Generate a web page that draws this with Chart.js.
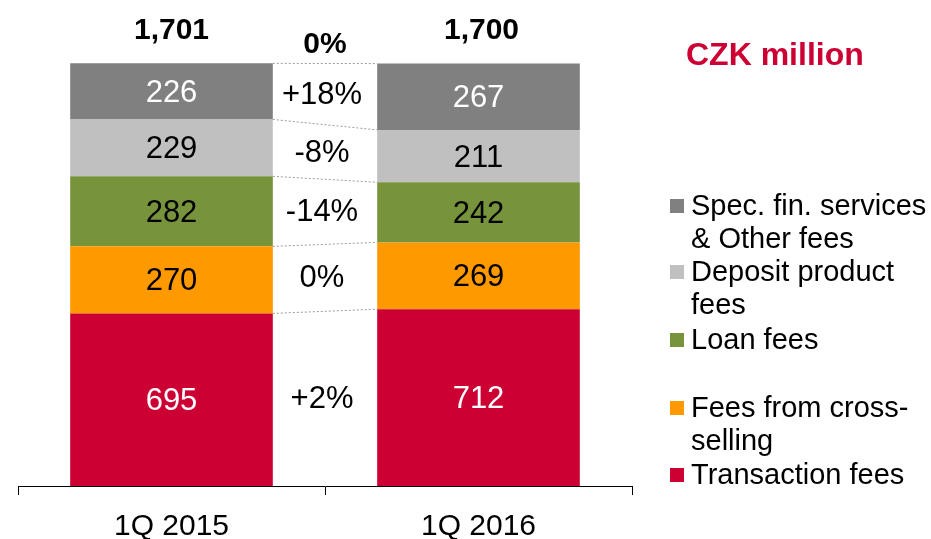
<!DOCTYPE html>
<html>
<head>
<meta charset="utf-8">
<script src="https://cdn.jsdelivr.net/npm/chart.js@4"></script>
<style>
  html, body { margin: 0; padding: 0; background: #fff; }
  #wrap { width: 931px; height: 539px; }
</style>
</head>
<body>
<div id="wrap"><canvas id="feeChart" width="931" height="539"></canvas></div>
<script>
// categories
const periods = ['1Q 2015', '1Q 2016'];

// series, bottom to top of stack
const transactionFees = [695, 712];
const crossSellingFees = [270, 269];
const loanFees = [282, 242];
const depositFees = [229, 211];
const specFinFees = [226, 267];

// totals and changes
const totals = ['1,701', '1,700'];
const totalChange = '0%';
const seriesChange = ['+2%', '0%', '-14%', '-8%', '+18%'];

const seriesNames = [
  ['Transaction fees'],
  ['Fees from cross-', 'selling'],
  ['Loan fees'],
  ['Deposit product', 'fees'],
  ['Spec. fin. services', '& Other fees']
];
const unitTitle = 'CZK million';

const colors = ['#CC0033', '#FF9900', '#77933C', '#C0C0C0', '#808080'];
const labelColors = ['#fff', '#000', '#000', '#000', '#fff'];
const FONT = '"Liberation Sans", Arial, sans-serif';

const seriesData = [transactionFees, crossSellingFees, loanFees, depositFees, specFinFees];

const datasets = seriesData.map((d, i) => ({
  label: seriesNames[i].join(' '),
  data: d,
  backgroundColor: colors[i],
  borderWidth: 0,
  barPercentage: 0.66,
  categoryPercentage: 1
}));

// connectors, value labels, totals, change labels
const overlayPlugin = {
  id: 'overlay',
  afterDatasetsDraw(chart) {
    const ctx = chart.ctx;
    const metas = chart.data.datasets.map((_, i) => chart.getDatasetMeta(i));

    // dashed connectors between bars
    ctx.save();
    ctx.strokeStyle = '#9a9a9a';
    ctx.lineWidth = 1;
    ctx.setLineDash([2, 2]);
    metas.forEach(m => {
      const a = m.data[0], b = m.data[1];
      ctx.beginPath();
      ctx.moveTo(a.x + a.width / 2, a.y);
      ctx.lineTo(b.x - b.width / 2, b.y);
      ctx.stroke();
    });
    ctx.restore();

    ctx.save();
    ctx.textAlign = 'center';
    ctx.textBaseline = 'middle';

    // values in segments
    ctx.font = '31px ' + FONT;
    metas.forEach((m, i) => {
      m.data.forEach((bar, j) => {
        ctx.fillStyle = labelColors[i];
        ctx.fillText(String(seriesData[i][j]), bar.x, (bar.y + bar.base) / 2 + 2);
      });
    });

    // change labels between bars
    metas.forEach((m, i) => {
      const a = m.data[0], b = m.data[1];
      const x = (a.x + a.width / 2 + b.x - b.width / 2) / 2 - 3;
      const y = ((a.y + a.base) / 2 + (b.y + b.base) / 2) / 2 + 1;
      ctx.fillStyle = '#000';
      ctx.fillText(seriesChange[i], x, y);
    });

    // totals
    const top = metas[metas.length - 1];
    ctx.font = 'bold 30px ' + FONT;
    ctx.fillStyle = '#000';
    top.data.forEach((bar, j) => {
      ctx.fillText(totals[j], bar.x + (j === 1 ? 3 : 0), bar.y - 33);
    });
    const a = top.data[0], b = top.data[1];
    ctx.fillText(totalChange, (a.x + a.width / 2 + b.x - b.width / 2) / 2,
      Math.min(a.y, b.y) - 19);
    ctx.restore();
  },
  afterDraw(chart) {
    const ctx = chart.ctx;
    ctx.save();
    // unit title
    ctx.font = 'bold 32px ' + FONT;
    ctx.fillStyle = '#CC0033';
    ctx.textAlign = 'left';
    ctx.textBaseline = 'middle';
    ctx.fillText(unitTitle, 686, 56);

    // legend, top entry first
    const rowY = [206, 272, 340, 408, 475];
    const lineH = 33;
    ctx.font = '29px ' + FONT;
    for (let k = 0; k < seriesNames.length; k++) {
      const i = seriesNames.length - 1 - k;
      const y = rowY[k];
      ctx.fillStyle = colors[i];
      ctx.fillRect(670, y - 7, 14, 14);
      ctx.fillStyle = '#000';
      seriesNames[i].forEach((line, n) => {
        ctx.fillText(line, 691, y + n * lineH + 1);
      });
    }
    ctx.restore();
  }
};

new Chart(document.getElementById('feeChart'), {
  type: 'bar',
  data: { labels: periods, datasets: datasets },
  options: {
    responsive: false,
    animation: false,
    layout: { padding: { left: 18, right: 299, top: 39, bottom: -20 } },
    plugins: { legend: { display: false }, tooltip: { enabled: false } },
    scales: {
      x: {
        stacked: true,
        border: { display: true, color: '#000', width: 1 },
        grid: { offset: true, drawOnChartArea: false, drawTicks: true, tickLength: 9, color: '#000' },
        ticks: { color: '#000', font: { family: FONT, size: 30 }, padding: 14 }
      },
      y: {
        stacked: true,
        display: false,
        min: 0,
        max: 1800
      }
    }
  },
  plugins: [overlayPlugin]
});
</script>
</body>
</html>
